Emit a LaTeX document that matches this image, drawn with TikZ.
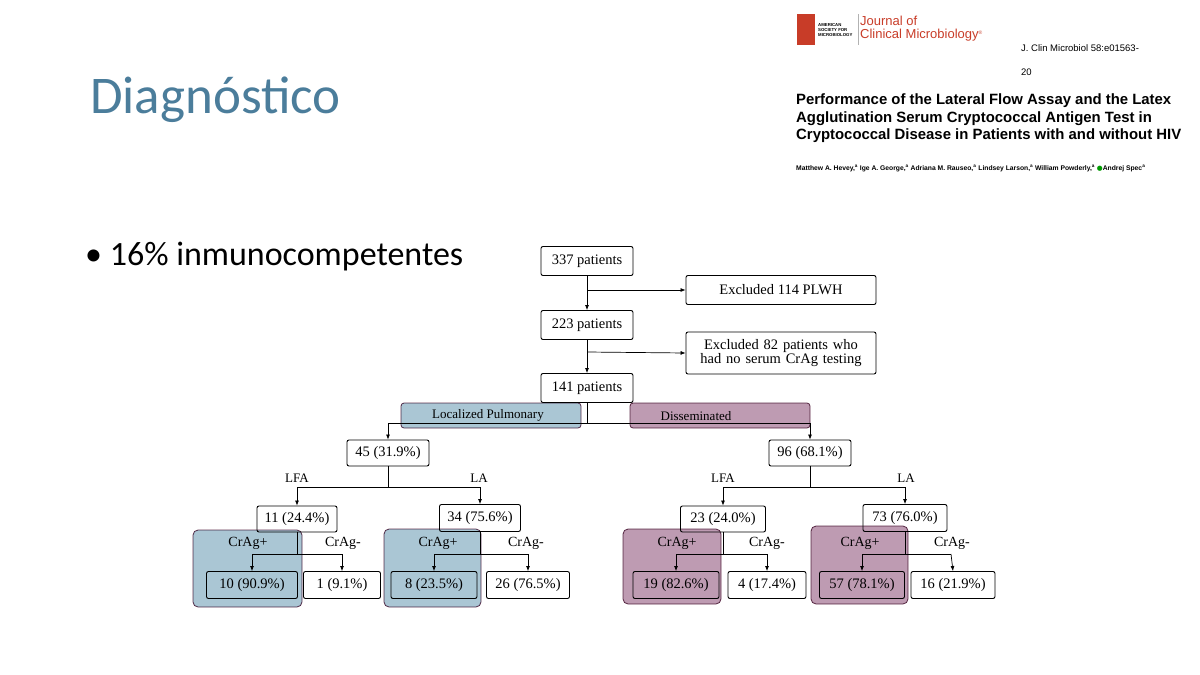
\documentclass[tikz,border=0pt]{standalone}
\usepackage{fontspec}
\setmainfont{Liberation Serif}
\newfontfamily\carl{Carlito}
\newfontfamily\ars{Liberation Sans}
\usetikzlibrary{arrows.meta}
\definecolor{ttl}{RGB}{75,125,155}
\definecolor{jred}{RGB}{200,60,40}
\definecolor{hblue}{RGB}{170,198,212}
\definecolor{hpurp}{RGB}{190,155,178}
\definecolor{hedge}{RGB}{100,50,80}
\tikzset{
 bx/.style={draw, rounded corners=2pt, fill=white, line width=0.9pt, inner sep=0pt, font=\fontsize{14.5}{16}\selectfont, align=center},
 lab/.style={font=\fontsize{13}{15}\selectfont, inner sep=0pt},
 ln/.style={line width=0.7pt},
 ar/.style={line width=0.7pt, -{Latex[length=5pt,width=4pt]}},
 hlb/.style={draw=hedge, fill=hblue, blend mode=multiply, rounded corners=5pt, line width=0.8pt},
 hlp/.style={draw=hedge, fill=hpurp, blend mode=multiply, rounded corners=5pt, line width=0.8pt},
}
\begin{document}
\begin{tikzpicture}[x=1pt,y=-1pt]
\useasboundingbox (0,0) rectangle (1200,675);
% header
\node[anchor=west, text=ttl, font=\carl\fontsize{53}{58}\selectfont, inner sep=0] (ttl) at (90,100) {Diagnóstico};
\node[anchor=west, font=\carl\fontsize{34}{38}\selectfont, inner sep=0] (bul) at (85,257) {• 16\% inmunocompetentes};
\fill[jred] (797,14) rectangle (815,45);
\node[anchor=west, font=\ars\bfseries\fontsize{4.3}{5}\selectfont, align=left, inner sep=0] (asm) at (818,30) {AMERICAN\\SOCIETY FOR\\MICROBIOLOGY};
\draw[gray!60] (858,14) -- (858,45);
\node[anchor=west, text=jred, font=\ars\fontsize{13}{13}\selectfont, align=left, inner sep=0] (jcm) at (860,29) {Journal of\\Clinical Microbiology\textsuperscript{\tiny®}};
\node[anchor=west, font=\ars\fontsize{9.5}{11}\selectfont, inner sep=0] (ref1) at (1021,48) {J. Clin Microbiol 58:e01563-};
\node[anchor=west, font=\ars\fontsize{9.5}{11}\selectfont, inner sep=0] (ref2) at (1021,72) {20};
\node[anchor=north west, font=\ars\bfseries\fontsize{14.9}{17.5}\selectfont, align=left, inner sep=0] (paper) at (796,94) {Performance of the Lateral Flow Assay and the Latex\\Agglutination Serum Cryptococcal Antigen Test in\\Cryptococcal Disease in Patients with and without HIV};
\node[anchor=west, font=\ars\bfseries\fontsize{6.75}{7}\selectfont, inner sep=0] (auth) at (796,168) {Matthew A. Hevey,\textsuperscript{a} Ige A. George,\textsuperscript{a} Adriana M. Rauseo,\textsuperscript{a} Lindsey Larson,\textsuperscript{a} William Powderly,\textsuperscript{a} {\color{green!60!black}\fontspec{DejaVu Sans}●}Andrej Spec\textsuperscript{a}};
% flowchart
\node[bx, minimum width=92, minimum height=29] (p337) at (587,261) {337 patients};
\node[bx, minimum width=190, minimum height=29] (e114) at (781,290) {Excluded 114 PLWH};
\node[bx, minimum width=92, minimum height=29] (p223) at (587,325) {223 patients};
\node[bx, minimum width=190, minimum height=42, text width=180] (e82) at (781,353) {Excluded 82 patients who\\[-2pt]had no serum CrAg testing};
\node[bx, minimum width=92, minimum height=29] (p141) at (587,388) {141 patients};
\draw[ar] (p337) -- (p223);
\draw[ar] (587,290) -- (e114.west);
\draw[ar] (p223) -- (p141);
\draw[ar] (587,352) -- (e82.west);
\node[bx, minimum width=82, minimum height=26] (n45) at (388,453) {45 (31.9\%)};
\node[bx, minimum width=82, minimum height=26] (n96) at (810,453) {96 (68.1\%)};
\draw[ln] (p141.south) -- (587,423);
\draw[ln] (388,423) -- (810,423);
\draw[ar] (388,423) -- (n45.north);
\draw[ar] (810,423) -- (n96.north);
% left subtree
\node[bx, minimum width=80, minimum height=26] (n11) at (297,519) {11 (24.4\%)};
\node[bx, minimum width=81, minimum height=27] (n34) at (480,518) {34 (75.6\%)};
\draw[ln] (n45.south) -- (388,487);
\draw[ln] (297,487) -- (480,487);
\draw[ar] (297,487) -- (n11.north);
\draw[ar] (480,487) -- (n34.north);
\node[lab] (lfa1) at (297,478) {LFA};
\node[lab] (la1) at (479,478) {LA};
\node[bx, minimum width=91, minimum height=27] (n10) at (252,585) {10 (90.9\%)};
\node[bx, minimum width=77, minimum height=27] (n1) at (342,585) {1 (9.1\%)};
\node[bx, minimum width=86, minimum height=27] (n8) at (434,585) {8 (23.5\%)};
\node[bx, minimum width=83, minimum height=27] (n26) at (528,585) {26 (76.5\%)};
\draw[ln] (n11.south) -- (297,554) (252,554) -- (342,554);
\draw[ar] (252,554) -- (n10.north);
\draw[ar] (342,554) -- (n1.north);
\draw[ln] (n34.south) -- (480,554) (434,554) -- (528,554);
\draw[ar] (434,554) -- (n8.north);
\draw[ar] (528,554) -- (n26.north);
\node[lab, font=\fontsize{14}{16}\selectfont] (cp1) at (248,543) {CrAg+};
\node[lab, font=\fontsize{14}{16}\selectfont] (cm1) at (343,543) {CrAg-};
\node[lab, font=\fontsize{14}{16}\selectfont] (cp2) at (438,543) {CrAg+};
\node[lab, font=\fontsize{14}{16}\selectfont] (cm2) at (526,543) {CrAg-};
% right subtree
\node[bx, minimum width=85, minimum height=26] (n23) at (723,519) {23 (24.0\%)};
\node[bx, minimum width=84, minimum height=27] (n73) at (905,518) {73 (76.0\%)};
\draw[ln] (n96.south) -- (810,487);
\draw[ln] (723,487) -- (906,487);
\draw[ar] (723,487) -- (n23.north);
\draw[ar] (905,487) -- (n73.north);
\node[lab] (lfa2) at (723,478) {LFA};
\node[lab] (la2) at (906,478) {LA};
\node[bx, minimum width=86, minimum height=27] (n19) at (676,585) {19 (82.6\%)};
\node[bx, minimum width=78, minimum height=27] (n4) at (767,585) {4 (17.4\%)};
\node[bx, minimum width=85, minimum height=27] (n57) at (862,585) {57 (78.1\%)};
\node[bx, minimum width=84, minimum height=27] (n16) at (953,585) {16 (21.9\%)};
\draw[ln] (n23.south) -- (723,554) (676,554) -- (767,554);
\draw[ar] (676,554) -- (n19.north);
\draw[ar] (767,554) -- (n4.north);
\draw[ln] (n73.south) -- (905,554) (862,554) -- (951,554);
\draw[ar] (862,554) -- (n57.north);
\draw[ar] (951,554) -- (n16.north);
\node[lab, font=\fontsize{14}{16}\selectfont] (cp3) at (677,543) {CrAg+};
\node[lab, font=\fontsize{14}{16}\selectfont] (cm3) at (767,543) {CrAg-};
\node[lab, font=\fontsize{14}{16}\selectfont] (cp4) at (860,543) {CrAg+};
\node[lab, font=\fontsize{14}{16}\selectfont] (cm4) at (952,543) {CrAg-};
% highlights
\draw[hlb, rounded corners=3pt] (401,403) rectangle (581,428);
\node[lab] (locp) at (488,415) {Localized Pulmonary};
\draw[hlp, rounded corners=3pt] (630,403) rectangle (810,428);
\node[lab] (dis) at (696,416) {Disseminated};
\draw[hlb] (193,530) rectangle (302,607);
\draw[hlb] (384,529) rectangle (481,607);
\draw[hlp] (623,529) rectangle (721,604);
\draw[hlp] (811,526) rectangle (908,604);
\end{tikzpicture}
\end{document}
